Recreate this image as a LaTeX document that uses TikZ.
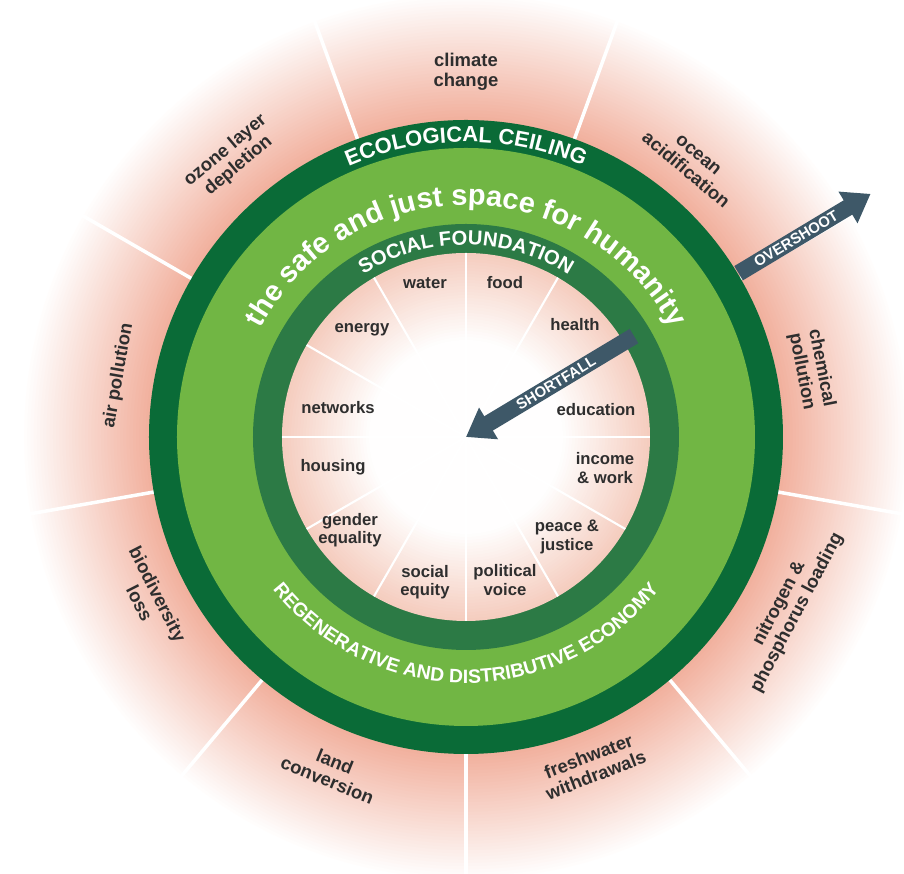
\documentclass[tikz,border=0pt]{standalone}
\usepackage{fontspec}
\setmainfont{Liberation Sans}
\usetikzlibrary{decorations.text,arrows.meta}
\definecolor{dkgreen}{HTML}{0A6B37}
\definecolor{ltgreen}{HTML}{71B644}
\definecolor{midgreen}{HTML}{2C7A45}
\definecolor{salmon}{HTML}{F1AF9C}
\definecolor{palepink}{HTML}{F5CDBF}
\definecolor{slate}{HTML}{3E5868}
\definecolor{txt}{HTML}{2E2E2E}
\tikzset{
  lbl/.style={text=txt,font=\bfseries\fontsize{10.5}{11.5}\selectfont,align=center,inner sep=0pt},
  ilbl/.style={text=txt,font=\bfseries\fontsize{9.5}{10.5}\selectfont,align=center,inner sep=0pt},
  arr/.style={draw=slate,line width=9.5pt,-{Triangle[width=20pt,length=15pt]}},
  arrtxt/.style={text=white,font=\bfseries\fontsize{8.5}{8.5}\selectfont,inner sep=0pt,rotate=31}
}
\begin{document}
\begin{tikzpicture}[x=0.02cm,y=0.02cm]
\useasboundingbox (-466,-437) rectangle (438,437);
\fill[white] (-466,-437) rectangle (438,437);
% outer gradient
\foreach \i in {0,...,40}{
  \pgfmathsetmacro\rr{445-\i*3.2}
  \pgfmathsetmacro\pc{\i*2.5}
  \fill[salmon!\pc!white] (0,0) circle[radius=\rr];
}
% outer spokes
\foreach \a in {110,70,30,-10,-50,-90,-130,-170,150}{
  \draw[white,line width=2pt] (\a:316) -- (\a:445);
}
% rings
\fill[dkgreen] (0,0) circle[radius=317];
\fill[ltgreen] (0,0) circle[radius=289];
\fill[midgreen] (0,0) circle[radius=213];
% inner gradient
\foreach \i in {0,...,29}{
  \pgfmathsetmacro\rr{184-\i*3}
  \pgfmathsetmacro\pc{max(0,100-\i*3.4)}
  \fill[palepink!\pc!white] (0,0) circle[radius=\rr];
}
\foreach \a in {0,30,...,330}{
  \draw[white,line width=1.2pt] (0,0) -- (\a:184);
}
% ring texts
\path[decorate,decoration={text along path,text align=center,text color=white,
  text={|\bfseries\fontsize{12.5}{12.5}\selectfont|ECOLOGICAL CEILING}}]
  (140:295) arc[start angle=140,end angle=40,radius=295];
\path[decorate,decoration={text along path,text align=center,text color=white,
  text={|\bfseries\fontsize{16.5}{16.5}\selectfont|the safe and just space for humanity}}]
  (165:232) arc[start angle=165,end angle=15,radius=232];
\path[decorate,decoration={text along path,text align=center,text color=white,
  text={|\bfseries\fontsize{11.5}{11.5}\selectfont|SOCIAL FOUNDATION}}]
  (140:192) arc[start angle=140,end angle=40,radius=192];
\path[decorate,decoration={text along path,text align=center,text color=white,
  text={|\bfseries\fontsize{11}{11}\selectfont|REGENERATIVE AND DISTRIBUTIVE ECONOMY}}]
  (-160:246) arc[start angle=-160,end angle=-20,radius=246];
% outer labels
\node[lbl] (cc) at (90:365) {climate\\change};
\node[lbl,rotate=-40] (oa) at (50.5:355) {ocean\\acidification};
\node[lbl,rotate=-79] (cp) at (11:352) {chemical\\pollution};
\node[lbl,rotate=62] (np) at (-28:365) {nitrogen \&\\phosphorus loading};
\node[lbl,rotate=21] (fw) at (-69:352) {freshwater\\withdrawals};
\node[lbl,rotate=-22] (lc) at (-112:360) {land\\conversion};
\node[lbl,rotate=-63] (bl) at (-153:356) {biodiversity\\loss};
\node[lbl,rotate=80] (ap) at (170:353) {air pollution};
\node[lbl,rotate=40] (oz) at (130:364) {ozone layer\\depletion};
% inner labels
\node[ilbl] (water) at (-41,154) {water};
\node[ilbl] (food) at (39,154) {food};
\node[ilbl] (health) at (109,112) {health};
\node[ilbl] (edu) at (130,27) {education};
\node[ilbl] (inc) at (139,-31) {income\\\& work};
\node[ilbl] (peace) at (101,-100) {peace \&\\justice};
\node[ilbl] (pol) at (39,-143) {political\\voice};
\node[ilbl] (soc) at (-41,-145) {social\\equity};
\node[ilbl] (gen) at (-116,-93) {gender\\equality};
\node[ilbl] (hous) at (-133,-30) {housing};
\node[ilbl] (net) at (-128,29) {networks};
\node[ilbl] (en) at (-104,107) {energy};
% arrows
\coordinate (o1) at (31:318);
\coordinate (o2) at (31:472);
\coordinate (s1) at (31:196);
\coordinate (s2) at (0,0);
\draw[arr] (o1) -- (o2);
\draw[arr] (s1) -- (s2);
\node[arrtxt] (ot) at (31:385) {OVERSHOOT};
\node[arrtxt] (st) at (31:105) {SHORTFALL};
\end{tikzpicture}
\end{document}
